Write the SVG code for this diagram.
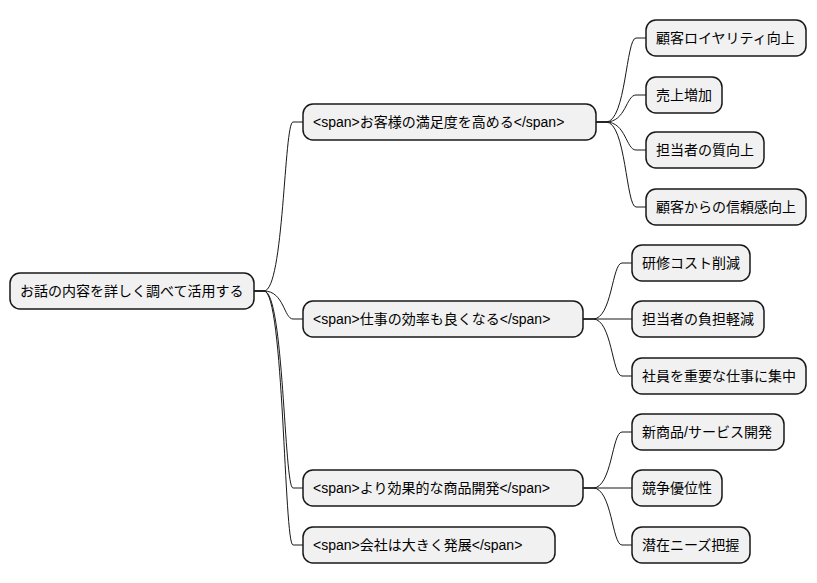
<svg xmlns="http://www.w3.org/2000/svg" width="817" height="583" viewBox="0 0 817 583">
<style>
.n rect{fill:#F1F1F1;stroke:#181818;stroke-width:1.5}
.n text{font-family:"Liberation Sans","Noto Sans CJK JP",sans-serif;font-size:14px;fill:#000;dominant-baseline:central}
.c path{fill:none;stroke:#181818;stroke-width:1}
</style>
<rect width="817" height="583" fill="#fff"/>
<g class="c">
<path d="M254,291 h10 C284,291 284,122 293,122 h10"/>
<path d="M254,291 h10 C284,291 284,319 293,319 h10"/>
<path d="M254,291 h10 C284,291 284,488 293,488 h10"/>
<path d="M254,291 h10 C284,291 284,545 293,545 h10"/>
<path d="M596,122 h10 C626,122 626,38 636,38 h10"/>
<path d="M596,122 h10 C626,122 626,95 636,95 h10"/>
<path d="M596,122 h10 C626,122 626,150 636,150 h10"/>
<path d="M596,122 h10 C626,122 626,207 636,207 h10"/>
<path d="M583,319 h10 C612,319 612,263 622,263 h10"/>
<path d="M583,319 h49"/>
<path d="M583,319 h10 C612,319 612,376 622,376 h10"/>
<path d="M583,488 h10 C612,488 612,432 622,432 h10"/>
<path d="M583,488 h49"/>
<path d="M583,488 h10 C612,488 612,545 622,545 h10"/>
</g>
<g class="n" id="root"><rect x="10" y="273" width="244" height="36" rx="10"/><text x="20" y="291">お話の内容を詳しく調べて活用する</text></g>
<g class="n" id="a"><rect x="303" y="104" width="293" height="36" rx="10"/><text x="313" y="122">&lt;span&gt;お客様の満足度を高める&lt;/span&gt;</text></g>
<g class="n" id="b"><rect x="303" y="301" width="280" height="36" rx="10"/><text x="313" y="319">&lt;span&gt;仕事の効率も良くなる&lt;/span&gt;</text></g>
<g class="n" id="c"><rect x="303" y="470" width="280" height="36" rx="10"/><text x="313" y="488">&lt;span&gt;より効果的な商品開発&lt;/span&gt;</text></g>
<g class="n" id="d"><rect x="303" y="527" width="252" height="36" rx="10"/><text x="313" y="545">&lt;span&gt;会社は大きく発展&lt;/span&gt;</text></g>
<g class="n" id="a1"><rect x="646" y="20" width="160" height="36" rx="10"/><text x="656" y="38">顧客ロイヤリティ向上</text></g>
<g class="n" id="a2"><rect x="646" y="77" width="76" height="36" rx="10"/><text x="656" y="95">売上増加</text></g>
<g class="n" id="a3"><rect x="646" y="132" width="118" height="36" rx="10"/><text x="656" y="150">担当者の質向上</text></g>
<g class="n" id="a4"><rect x="646" y="189" width="160" height="36" rx="10"/><text x="656" y="207">顧客からの信頼感向上</text></g>
<g class="n" id="b1"><rect x="632" y="245" width="118" height="36" rx="10"/><text x="642" y="263">研修コスト削減</text></g>
<g class="n" id="b2"><rect x="632" y="301" width="132" height="36" rx="10"/><text x="642" y="319">担当者の負担軽減</text></g>
<g class="n" id="b3"><rect x="632" y="358" width="174" height="36" rx="10"/><text x="642" y="376">社員を重要な仕事に集中</text></g>
<g class="n" id="c1"><rect x="632" y="414" width="152" height="36" rx="10"/><text x="642" y="432">新商品/サービス開発</text></g>
<g class="n" id="c2"><rect x="632" y="470" width="90" height="36" rx="10"/><text x="642" y="488">競争優位性</text></g>
<g class="n" id="c3"><rect x="632" y="527" width="118" height="36" rx="10"/><text x="642" y="545">潜在ニーズ把握</text></g>
</svg>
